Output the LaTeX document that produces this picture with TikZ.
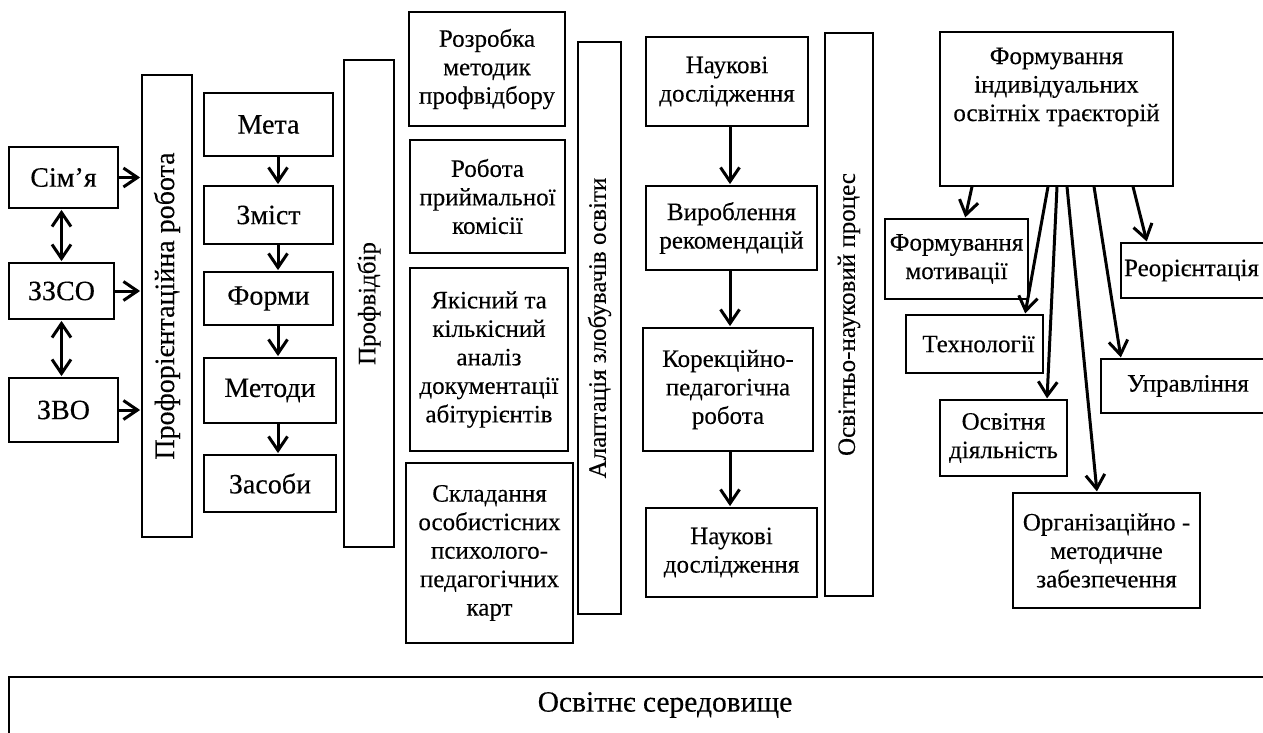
\documentclass[tikz,border=0pt]{standalone}
\usepackage{fontspec}
\setmainfont{Liberation Serif}[FakeBold=0.25]
\usepackage{graphicx}
\usetikzlibrary{arrows.meta}
\newcommand\fbig{\fontsize{28}{31}\selectfont}
\newcommand\fmid{\fontsize{25}{28.5}\selectfont}
\tikzset{
  bx/.style 2 args={draw, line width=1.8pt, inner sep=0pt, align=center,
    minimum width=#1pt, minimum height=#2pt, font=\fmid},
  thinb/.style={line width=1.2pt},
  big/.style={font=\fbig},
  arr/.style={line width=3pt, -{Straight Barb[length=14pt,width=19pt]}, shorten >=1pt},
  dbl/.style={line width=3pt, {Straight Barb[length=14pt,width=19pt]}-{Straight Barb[length=14pt,width=19pt]},
    shorten >=1pt, shorten <=1pt},
  envline/.style={line width=1.8pt},
}
\begin{document}
\begin{tikzpicture}[x=1pt,y=-1pt]
\clip (0,0) rectangle (1263,733);
\fill[white] (0,0) rectangle (1263,733);

% left column
\node[bx={109}{61}, big] (sim) at (63.5,177.5) {Сім’я};
\node[bx={105}{56}, big] (zzso) at (61.5,291) {ЗЗСО};
\node[bx={109}{64}, big] (zvo) at (63.5,410) {ЗВО};
\node[bx={50}{462}] (prof) at (167,306) {\rotatebox{90}{\fbig Профорієнтаційна робота}};

\draw[arr] (sim.east) -- (sim.east -| prof.west);
\draw[arr] (zzso.east) -- (zzso.east -| prof.west);
\draw[arr] (zvo.east) -- (zvo.east -| prof.west);
\draw[dbl] (zzso.north |- sim.south) -- (zzso.north);
\draw[dbl] (zzso.south) -- (zzso.south |- zvo.north);

% second column
\node[bx={129}{63}, big] (meta) at (268.5,124.5) {Мета};
\node[bx={129}{58}, big] (zmist) at (268.5,215) {Зміст};
\node[bx={129}{53}, big] (formy) at (268.5,298.5) {Форми};
\node[bx={132}{65}, big] (metody) at (270,390.5) {Методи};
\node[bx={132}{57}, big] (zasoby) at (270,483.5) {Засоби};
\coordinate (ax) at (278,0);
\draw[arr] (meta.south -| ax) -- (zmist.north -| ax);
\draw[arr] (zmist.south -| ax) -- (formy.north -| ax);
\draw[arr] (formy.south -| ax) -- (metody.north -| ax);
\draw[arr] (metody.south -| ax) -- (zasoby.north -| ax);

\node[bx={50}{487}] (profvid) at (369,303.5) {\rotatebox{90}{Профвідбір}};

% third column
\node[bx={156}{114}] (rozrobka) at (487,69) {Розробка\\методик\\профвідбору};
\node[bx={155}{113}] (robota) at (487.5,196.5) {Робота\\приймальної\\комісії};
\node[bx={158}{183}] (yakisnyi) at (489,359.5) {Якісний та\\кількісний\\аналіз\\документації\\абітурієнтів};
\node[bx={167}{180}] (sklad) at (489.5,553) {Складання\\особистісних\\психолого-\\педагогічних\\карт};

\node[bx={43}{572}] (adapt) at (599.5,328) {\rotatebox{90}{Алаптація злобувачів освіти}};

% fourth column
\node[bx={162}{89}] (nauk1) at (727,81.5) {Наукові\\дослідження};
\node[bx={171}{84}] (vyrob) at (731.5,228) {Вироблення\\рекомендацій};
\node[bx={170}{123}] (korek) at (728,389.5) {Корекційно-\\педагогічна\\робота};
\node[bx={171}{89}] (nauk2) at (731.5,552.5) {Наукові\\дослідження};
\coordinate (cx) at (730,0);
\draw[arr] (nauk1.south -| cx) -- (vyrob.north -| cx);
\draw[arr] (vyrob.south -| cx) -- (korek.north -| cx);
\draw[arr] (korek.south -| cx) -- (nauk2.north -| cx);

\node[bx={48}{563}] (osvnauk) at (849,314.5) {\rotatebox{90}{Освітньо-науковий процес}};

% right group
\node[bx={233}{154}, thinb] (formtraj) at (1056.5,109) {};
\node[font=\fmid, align=center, inner sep=0pt] (formtrajtext) at (1056.5,87)
  {Формування\\індивідуальних\\освітніх траєкторій};
\node[bx={143}{80}, thinb] (motiv) at (956.5,259) {Формування\\мотивації};
\node[bx={155}{55}, thinb] (reor) at (1198.5,270.5) {Реорієнтація\hspace*{14pt}};
\node[bx={137}{58}, thinb] (tech) at (974.5,344) {\hspace*{8pt}Технології};
\node[bx={174}{54}, thinb] (upr) at (1188,386) {Управління};
\node[bx={127}{76}, thinb] (osvd) at (1003.5,438) {Освітня\\діяльність};
\node[bx={187}{115}, thinb] (orgmet) at (1106.5,550.5) {Організаційно -\\методичне\\забезпечення};

\draw[arr] ([xshift=-84.5pt]formtraj.south) -- ([xshift=8.5pt]motiv.north);
\draw[arr] ([xshift=-8.5pt]formtraj.south) -- ([xshift=50.5pt]tech.north);
\draw[arr] ([xshift=0.5pt]formtraj.south) -- ([xshift=43.5pt]osvd.north);
\draw[arr] ([xshift=10.5pt]formtraj.south) -- ([xshift=-9.5pt]orgmet.north);
\draw[arr] ([xshift=37.5pt]formtraj.south) -- ([xshift=-67pt]upr.north);
\draw[arr] ([xshift=76.5pt]formtraj.south) -- ([xshift=-51.5pt]reor.north);

% bottom environment box
\node[font=\fontsize{29.5}{32}\selectfont, inner sep=0pt] (env) at (665,705) {Освітнє середовище};
\draw[envline] (1270,677) -| (9,740);
\end{tikzpicture}
\end{document}
